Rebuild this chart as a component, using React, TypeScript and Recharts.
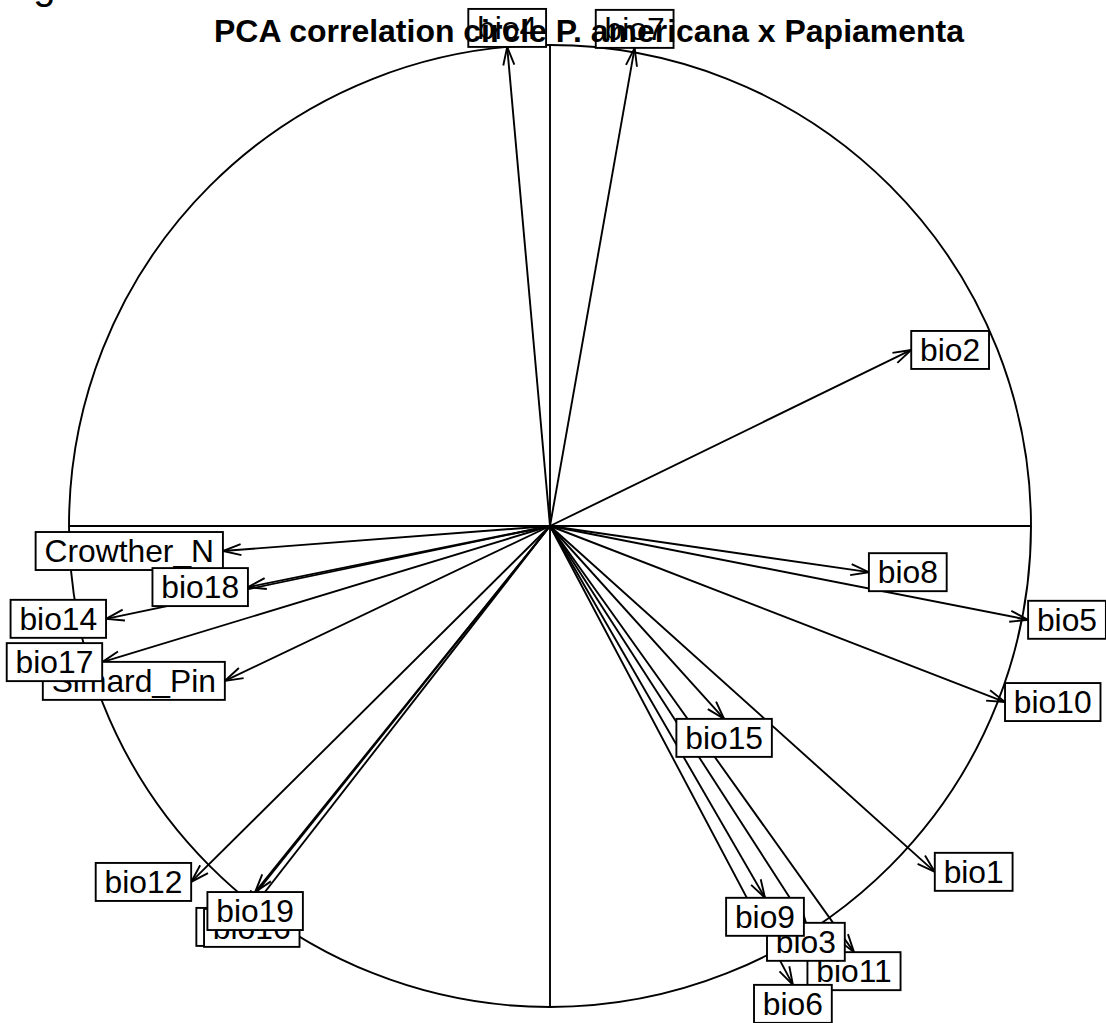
import React from 'react';
import { ScatterChart, Scatter, XAxis, YAxis, ReferenceLine, ReferenceDot } from 'recharts';

// variables in the order they were plotted (labels drawn later sit on top)
const varNames = [
  'Crowther_N', 'Simard_Pin', 'bio1', 'bio10', 'bio11', 'bio12', 'bio13', 'bio14', 'bio15', 'bio16', 'bio17',
  'bio18', 'bio19', 'bio2', 'bio3', 'bio4', 'bio5', 'bio6', 'bio7', 'bio8', 'bio9',
];
const axis1 = [
  -0.68, -0.676, 0.8, 0.946, 0.632, -0.746, -0.636, -0.923, 0.362, -0.62, -0.931,
  -0.628, -0.613, 0.751, 0.532, -0.089, 0.994, 0.505, 0.176, 0.663, 0.447,
];
const axis2 = [
  -0.052, -0.322, -0.719, -0.366, -0.886, -0.74, -0.794, -0.193, -0.401, -0.796, -0.283,
  -0.127, -0.761, 0.366, -0.825, 0.996, -0.195, -0.954, 0.994, -0.096, -0.773,
];
const unitDomain = [-1, 1];

const chartTitle = 'PCA correlation circle P. americana x Papiamenta';
const figureTag = 'Figure S13';

const points = varNames.map((name, i) => ({ name, x: axis1[i], y: axis2[i] }));

const FONT = '"Liberation Sans", Arial, Helvetica, sans-serif';
const LABEL_SIZE = 31.8;
const LW = 1.9;

let ctx: CanvasRenderingContext2D | null = null;
const textWidth = (s: string) => {
  if (!ctx) ctx = document.createElement('canvas').getContext('2d');
  if (!ctx) return s.length * LABEL_SIZE * 0.55;
  ctx.font = `${LABEL_SIZE}px "Liberation Sans"`;
  return ctx.measureText(s).width;
};

const Arrow = ({ x1, y1, x2, y2 }: any) => {
  const a = Math.atan2(y2 - y1, x2 - x1);
  const len = 19;
  const spread = (17 * Math.PI) / 180;
  const ax = x2 - len * Math.cos(a - spread);
  const ay = y2 - len * Math.sin(a - spread);
  const bx = x2 - len * Math.cos(a + spread);
  const by = y2 - len * Math.sin(a + spread);
  return (
    <g stroke="#000" strokeWidth={LW} fill="none">
      <line x1={x1} y1={y1} x2={x2} y2={y2} />
      <polyline points={`${ax},${ay} ${x2},${y2} ${bx},${by}`} />
    </g>
  );
};

const Plain = ({ x1, y1, x2, y2 }: any) => (
  <line x1={x1} y1={y1} x2={x2} y2={y2} stroke="#000" strokeWidth={LW} />
);

const UnitCircle = ({ x1, y1, x2 }: any) => (
  <circle cx={(x1 + x2) / 2} cy={y1} r={(x2 - x1) / 2} fill="none" stroke="#000" strokeWidth={LW} />
);

// boxed label placed just outside the arrow tip, like ade4 s.corcircle
const BoxLabel = ({ cx, cy, name, u, v }: any) => {
  const w = textWidth(` ${name} `);
  const hh = 19;
  let x = cx;
  let y = cy;
  if (u > v && u > -v) x = cx + w / 2;
  else if (u > v && u <= -v) y = cy + hh;
  else if (u <= v && u <= -v) x = cx - w / 2;
  else y = cy - hh;
  return (
    <g>
      <rect x={x - w / 2} y={y - hh} width={w} height={2 * hh} fill="#fff" stroke="#000" strokeWidth={LW} />
      <text x={x} y={y + 11} textAnchor="middle" fontSize={LABEL_SIZE} fontFamily={FONT} fill="#000">
        {name}
      </text>
    </g>
  );
};

export default function App() {
  return (
    <div style={{ position: 'absolute', left: 0, top: 0, width: 1106, height: 1023, background: '#fff' }}>
      <ScatterChart width={1106} height={1023} margin={{ top: 45, right: 75, bottom: 16, left: 69 }}>
        <XAxis type="number" dataKey="x" domain={unitDomain} hide />
        <YAxis type="number" dataKey="y" domain={unitDomain} hide />
        <Scatter data={points} isAnimationActive={false} shape={() => <g />} />
        <ReferenceLine segment={[{ x: -1, y: 0 }, { x: 1, y: 0 }]} shape={UnitCircle} />
        <ReferenceLine segment={[{ x: -1, y: 0 }, { x: 1, y: 0 }]} shape={Plain} />
        <ReferenceLine segment={[{ x: 0, y: -1 }, { x: 0, y: 1 }]} shape={Plain} />
        {points.map((p) => (
          <ReferenceLine
            key={`a-${p.name}`}
            segment={[{ x: 0, y: 0 }, { x: p.x, y: p.y }]}
            shape={Arrow}
          />
        ))}
        {points.map((p) => (
          <ReferenceDot
            key={`l-${p.name}`}
            x={p.x}
            y={p.y}
            shape={(s: any) => <BoxLabel {...s} name={p.name} u={p.x} v={p.y} />}
          />
        ))}
      </ScatterChart>
      <svg width={1106} height={1023} style={{ position: 'absolute', left: 0, top: 0, pointerEvents: 'none' }}>
        <text x={0} y={-1} fontSize={40} fontFamily={FONT} fill="#000">
          {figureTag}
        </text>
        <text
          x={589}
          y={42}
          textAnchor="middle"
          fontSize={32}
          fontWeight="bold"
          fontFamily={FONT}
          fill="#000"
          textLength={750}
          lengthAdjust="spacingAndGlyphs"
        >
          {chartTitle}
        </text>
      </svg>
    </div>
  );
}
